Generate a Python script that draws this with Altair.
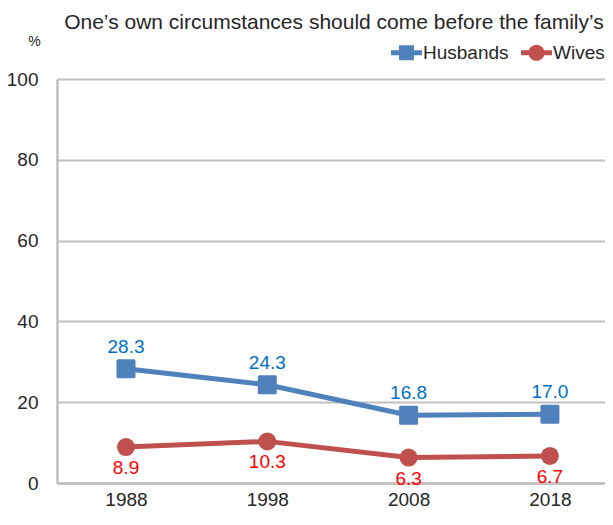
import altair as alt
import pandas as pd

years = ["1988", "1998", "2008", "2018"]
husbands = [28.3, 24.3, 16.8, 17.0]
wives = [8.9, 10.3, 6.3, 6.7]
series_names = ["Husbands", "Wives"]
line_colors = ["#4F81BD", "#C0504D"]
label_colors = ["#0070C0", "#FF0000"]
y_ticks = [0, 20, 40, 60, 80, 100]
title_text = "One\u2019s own circumstances should come before the family\u2019s"

rows = []
for s, vals, lc, tc in zip(series_names, [husbands, wives], line_colors, label_colors):
    for yr, v in zip(years, vals):
        rows.append({"year": yr, "value": v, "series": s, "lc": lc, "tc": tc,
                     "label": f"{v:.1f}"})
df = pd.DataFrame(rows)

FONT = "Liberation Sans"
TXT = "#262626"

xenc = alt.X("year:N", sort=years,
             scale=alt.Scale(type="point", padding=0.439, align=0.556),
             axis=alt.Axis(title=None, labelAngle=0, labelFontSize=19, labelColor=TXT,
                           labelFont=FONT, ticks=False, labelPadding=7,
                           domainColor="#BFBFBF", domainWidth=2.5, grid=False))
yenc = alt.Y("value:Q", scale=alt.Scale(domain=[0, 100], nice=False),
             axis=alt.Axis(values=y_ticks, title="%", titleAngle=0, titleX=-23, titleY=-31,
                           titleFontSize=14, titleFontWeight="normal", titleFont=FONT,
                           titleColor=TXT, titleAlign="center",
                           labelFontSize=19, labelColor=TXT, labelFont=FONT, ticks=False,
                           labelPadding=19, domainColor="#BFBFBF", domainWidth=2.5,
                           grid=True, gridColor="#BFBFBF", gridWidth=2))

base = alt.Chart(df)

lines = base.mark_line(strokeWidth=5).encode(
    x=xenc, y=yenc, detail="series:N",
    color=alt.Color("lc:N", scale=None))

sq = base.transform_filter(alt.datum.series == "Husbands").mark_point(
    shape="square", filled=True, size=256, strokeWidth=3, strokeJoin="round", opacity=1
).encode(x=xenc, y=yenc, color=alt.Color("lc:N", scale=None),
         stroke=alt.Stroke("lc:N", scale=None))

circ = base.transform_filter(alt.datum.series == "Wives").mark_point(
    shape="circle", filled=True, size=324, opacity=1
).encode(x=xenc, y=yenc, color=alt.Color("lc:N", scale=None))

lab_h = base.transform_filter(alt.datum.series == "Husbands").mark_text(
    dy=-22, fontSize=19, font=FONT
).encode(x=xenc, y=yenc, text="label:N", color=alt.Color("tc:N", scale=None))

lab_w = base.transform_filter(alt.datum.series == "Wives").mark_text(
    dy=21, fontSize=19, font=FONT
).encode(x=xenc, y=yenc, text="label:N", color=alt.Color("tc:N", scale=None))

sq_path = "M-1,-0.16H1V0.16H-1Z M-0.48,-0.48H0.48V0.48H-0.48Z"
ci_path = "M-1,-0.16H1V0.16H-1Z M-0.52,0A0.52,0.52 0 1,1 0.52,0A0.52,0.52 0 1,1 -0.52,0Z"

legend_layer = base.mark_point(filled=True, size=0).encode(
    x=xenc, y=yenc,
    color=alt.Color("series:N", scale=alt.Scale(domain=series_names, range=line_colors),
                    legend=alt.Legend(title=None, orient="none", legendX=334, legendY=-42,
                                      direction="horizontal", symbolSize=961,
                                      symbolOpacity=1, symbolStrokeWidth=0,
                                      labelFontSize=19, labelFont=FONT, labelColor=TXT,
                                      labelOffset=1, columnPadding=12)),
    shape=alt.Shape("series:N", scale=alt.Scale(domain=series_names, range=[sq_path, ci_path])),
)

chart = alt.layer(lines, sq, circ, lab_h, lab_w, legend_layer).properties(
    width=548, height=404,
    title=alt.TitleParams(title_text, fontSize=21, font=FONT, fontWeight="normal",
                          color=TXT, anchor="middle", frame="group", offset=1, dx=3),
    autosize=alt.AutoSizeParams(type="none"),
    padding={"left": 49, "top": 71, "right": 0, "bottom": 29},
).configure_view(stroke=None)

chart.save("out.html", embed_options={"renderer": "svg", "actions": False})
